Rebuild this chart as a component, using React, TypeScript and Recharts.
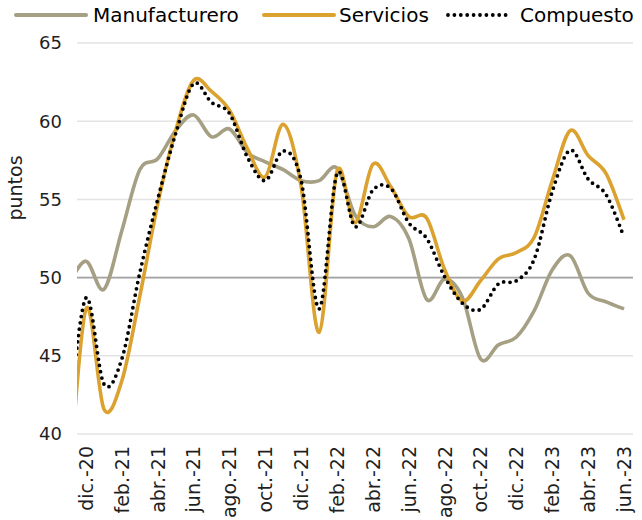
import { CartesianGrid, Label, Line, LineChart, ReferenceLine, XAxis, YAxis } from "recharts"

const FONT = '"DejaVu Sans", Verdana, sans-serif'
const MANUF = "#a59f83"
const SERV = "#dba22f"
const COMP = "#000000"
const TEXT = "#1f1f1f"

// nov.-20 sits half a category left of the plot and is clipped, like the source
const months = [
  "nov.-20", "dic.-20", "ene.-21", "feb.-21", "mar.-21", "abr.-21", "may.-21", "jun.-21",
  "jul.-21", "ago.-21", "sep.-21", "oct.-21", "nov.-21", "dic.-21", "ene.-22", "feb.-22",
  "mar.-22", "abr.-22", "may.-22", "jun.-22", "jul.-22", "ago.-22", "sep.-22", "oct.-22",
  "nov.-22", "dic.-22", "ene.-23", "feb.-23", "mar.-23", "abr.-23", "may.-23", "jun.-23"
]
const manufacturero = [
  49.5, 51.05, 49.25, 53.0, 56.9, 57.6, 59.4, 60.4, 59.0, 59.5, 58.0, 57.4, 56.9, 56.2, 56.2, 57.0,
  54.0, 53.25, 53.9, 52.5, 48.6, 49.9, 48.7, 44.8, 45.7, 46.2, 47.9, 50.5, 51.4, 49.0, 48.45, 48.0
]
const servicios = [
  35.8, 48.0, 41.6, 43.4, 48.8, 54.7, 59.4, 62.6, 61.9, 60.7, 58.25, 56.45, 59.8, 55.8, 46.5, 56.8,
  53.5, 57.25, 55.8, 53.9, 53.8, 50.5, 48.5, 49.8, 51.2, 51.6, 52.6, 56.2, 59.4, 57.8, 56.65, 53.7
]
const compuesto = [
  40.6, 48.7, 43.2, 44.8, 50.3, 55.0, 59.2, 62.4, 61.2, 60.5, 57.7, 56.2, 58.1, 56.2, 48.0, 56.65,
  53.25, 55.6, 55.7, 53.5, 52.5, 50.05, 48.35, 47.97, 49.6, 49.8, 51.2, 55.5, 58.15, 56.3, 55.3, 52.6
]
const yTicks = [40, 45, 50, 55, 60, 65]
const xTicks = [0, 2, 4, 6, 8, 10, 12, 14, 16, 18, 20, 22, 24, 26, 28, 30]

const data = months.map((month, i) => ({
  idx: i - 1,
  month,
  manufacturero: manufacturero[i],
  servicios: servicios[i],
  compuesto: compuesto[i]
}))

// Excel-style smoothed line (Catmull-Rom through every point)
const smooth = (context: any) => {
  let pts: number[][] = []
  return {
    areaStart() {},
    areaEnd() {},
    lineStart() {
      pts = []
    },
    lineEnd() {
      if (!pts.length) return
      context.moveTo(pts[0][0], pts[0][1])
      for (let i = 0; i < pts.length - 1; i++) {
        const p0 = pts[Math.max(0, i - 1)]
        const p1 = pts[i]
        const p2 = pts[i + 1]
        const p3 = pts[Math.min(pts.length - 1, i + 2)]
        context.bezierCurveTo(
          p1[0] + (p2[0] - p0[0]) / 6,
          p1[1] + (p2[1] - p0[1]) / 6,
          p2[0] - (p3[0] - p1[0]) / 6,
          p2[1] - (p3[1] - p1[1]) / 6,
          p2[0],
          p2[1]
        )
      }
    },
    point(x: number, y: number) {
      pts.push([+x, +y])
    }
  }
}

function MonthTick({ x, y, payload }: any) {
  return (
    <text
      x={x}
      y={y}
      transform={`rotate(-90 ${x} ${y})`}
      textAnchor="end"
      dy="0.36em"
      fill={TEXT}
      fontSize={19}
      fontFamily={FONT}
    >
      {months[payload.value + 1]}
    </text>
  )
}

function LegendRow() {
  return (
    <svg width={642} height={36} style={{ position: "absolute", left: 0, top: 0 }}>
      <line x1={16} x2={86} y1={15} y2={15} stroke={MANUF} strokeWidth={4} strokeLinecap="round" />
      <text x={93} y={22} fontSize={20} fontFamily={FONT} fill="#000">Manufacturero</text>
      <line x1={264} x2={334} y1={15} y2={15} stroke={SERV} strokeWidth={4} strokeLinecap="round" />
      <text x={339} y={22} fontSize={20} fontFamily={FONT} fill="#000">Servicios</text>
      <line x1={448} x2={506} y1={15} y2={15} stroke={COMP} strokeWidth={3.8} strokeLinecap="round" strokeDasharray="0 6.4" />
      <text x={520} y={22} fontSize={20} fontFamily={FONT} fill="#000">Compuesto</text>
    </svg>
  )
}

export default function App() {
  return (
    <div style={{ position: "absolute", left: 0, top: 0, width: 642, height: 520, background: "#fff", overflow: "hidden" }}>
      <LineChart width={642} height={520} data={data} margin={{ top: 43, right: 9, bottom: 0, left: 0 }}>
        <CartesianGrid vertical={false} stroke="#e3e3e3" strokeWidth={1.5} />
        <XAxis
          type="number"
          dataKey="idx"
          domain={[-0.5, 30.5]}
          allowDataOverflow
          ticks={xTicks}
          interval={0}
          axisLine={false}
          tickLine={false}
          tickSize={0}
          tickMargin={12}
          height={86}
          tick={<MonthTick />}
        />
        <YAxis
          domain={[40, 65]}
          allowDataOverflow
          ticks={yTicks}
          interval={0}
          axisLine={false}
          tickLine={false}
          tickSize={0}
          tickMargin={15}
          width={77}
          tick={{ fontSize: 18, fill: TEXT, fontFamily: FONT }}
        >
          <Label
            content={() => (
              <text
                x={22}
                y={188}
                transform="rotate(-90 22 188)"
                textAnchor="middle"
                fontSize={19}
                fontFamily={FONT}
                fill={TEXT}
              >
                puntos
              </text>
            )}
          />
        </YAxis>
        <ReferenceLine y={50} stroke="#a3a3a3" strokeWidth={1.6} />
        <Line dataKey="manufacturero" type={smooth as any} stroke={MANUF} strokeWidth={3.6} dot={false} isAnimationActive={false} />
        <Line dataKey="servicios" type={smooth as any} stroke={SERV} strokeWidth={3.6} dot={false} isAnimationActive={false} />
        <Line
          dataKey="compuesto"
          type={smooth as any}
          stroke={COMP}
          strokeWidth={3.8}
          strokeDasharray="0 6.4"
          strokeLinecap="round"
          dot={false}
          isAnimationActive={false}
        />
      </LineChart>
      <LegendRow />
    </div>
  )
}
